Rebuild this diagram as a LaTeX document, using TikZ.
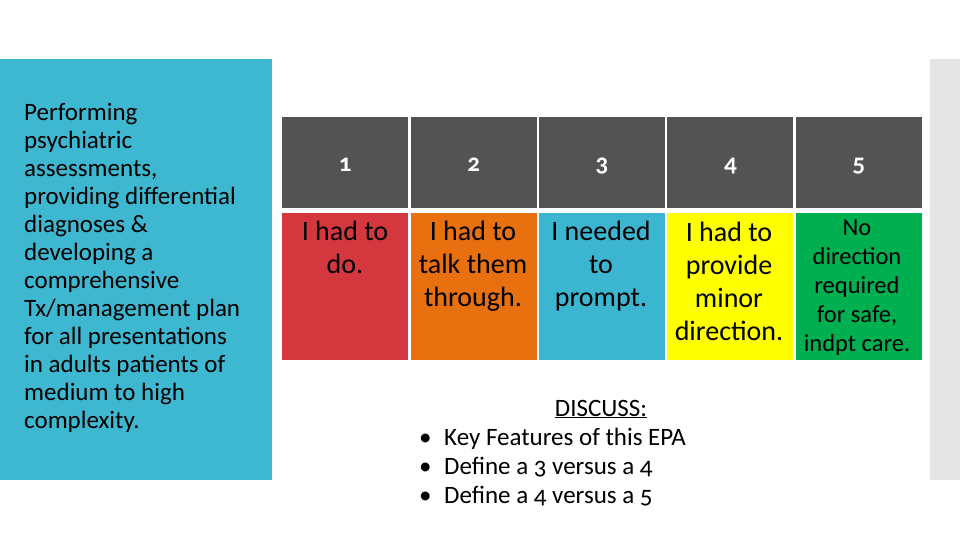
\documentclass[tikz,border=0pt]{standalone}
\usepackage{fontspec}
\setmainfont{Carlito}[Numbers=OldStyle]
\usetikzlibrary{positioning}

\definecolor{panelblue}{HTML}{3EB7D1}
\definecolor{headgray}{HTML}{535353}
\definecolor{stripgray}{HTML}{E5E5E5}
\definecolor{lvlred}{HTML}{D4373D}
\definecolor{lvlorange}{HTML}{E8700F}
\definecolor{lvlblue}{HTML}{3CB6D0}
\definecolor{lvlyellow}{HTML}{FFFF00}
\definecolor{lvlgreen}{HTML}{00AF50}

\begin{document}
\begin{tikzpicture}[x=1pt,y=-1pt,
  headcell/.style={fill=headgray,minimum width=126pt,minimum height=91pt,inner sep=0pt},
  numtext/.style={anchor=base,inner sep=0pt,text=white,font=\fontsize{25}{28}\selectfont\bfseries},
  bodycell/.style={fill=#1,minimum width=126pt,minimum height=147pt,inner sep=0pt},
  celltext/.style={anchor=base,align=center,inner sep=0pt,font=\fontsize{28}{33}\selectfont},
  smalltext/.style={anchor=base,align=center,inner sep=0pt,font=\fontsize{24.5}{28.8}\selectfont}]
  \useasboundingbox (0,0) rectangle (960,540);
  % side panels
  \fill[panelblue] (0,59) rectangle (272,480);
  \fill[stripgray] (930,59) rectangle (960,480);
  \node (task) [anchor=base west,align=left,inner sep=0pt,font=\fontsize{25}{28}\selectfont]
    at (24,428) {Performing\\psychiatric\\assessments,\\providing differential\\diagnoses \&\\developing a\\comprehensive\\Tx/management plan\\for all presentations\\in adults patients of\\medium to high\\complexity.};
  % header row
  \node (h1) [headcell,anchor=north west] at (282,117) {};
  \node (h2) [headcell,right=2pt of h1] {};
  \node (h3) [headcell,right=2pt of h2] {};
  \node (h4) [headcell,right=2pt of h3] {};
  \node (h5) [headcell,right=2pt of h4] {};
  \node (n1) [numtext] at ([yshift=-8.5pt]h1.center) {1};
  \node (n2) [numtext] at ([yshift=-8.5pt]h2.center) {2};
  \node (n3) [numtext] at ([yshift=-8.5pt]h3.center) {3};
  \node (n4) [numtext] at ([yshift=-8.5pt]h4.center) {4};
  \node (n5) [numtext] at ([yshift=-8.5pt]h5.center) {5};
  % level row
  \node (b1) [bodycell=lvlred,below=4pt of h1] {};
  \node (b2) [bodycell=lvlorange,below=4pt of h2] {};
  \node (b3) [bodycell=lvlblue,below=4pt of h3] {};
  \node (b4) [bodycell=lvlyellow,below=4pt of h4] {};
  \node (b5) [bodycell=lvlgreen,below=4pt of h5] {};
  \node (t1) [celltext] at (345,273) {I had to\\do.};
  \node (t2) [celltext] at (473,306) {I had to\\talk them\\through.};
  \node (t3) [celltext] at (601,306) {I needed\\to\\prompt.};
  \node (t4) [celltext] at (729,340) {I had to\\provide\\minor\\direction.};
  \node (t5) [smalltext] at (857,351) {No\\direction\\required\\for safe,\\indpt care.};
  % discussion points
  \node (disc) [anchor=base,inner sep=0pt,font=\fontsize{25}{29}\selectfont] at (601,416) {\underline{DISCUSS:}};
  \node (pts) [anchor=base west,align=left,inner sep=0pt,font=\fontsize{25}{29}\selectfont] at (419,503)
    {\makebox[25pt][l]{\textbullet}Key Features of this EPA\\\makebox[25pt][l]{\textbullet}Define a 3 versus a 4\\\makebox[25pt][l]{\textbullet}Define a 4 versus a 5};
\end{tikzpicture}
\end{document}
